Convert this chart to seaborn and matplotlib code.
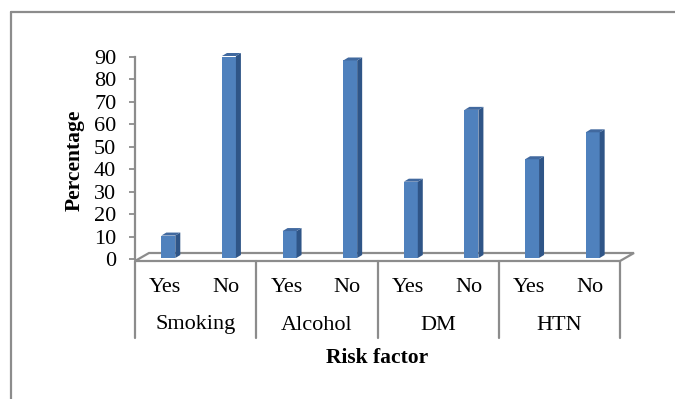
import matplotlib
matplotlib.use("Agg")
import numpy as np
import pandas as pd
import matplotlib.pyplot as plt
import seaborn as sns
from matplotlib.patches import Polygon, Rectangle
from matplotlib.lines import Line2D
from matplotlib.transforms import IdentityTransform, blended_transform_factory, offset_copy

# Survey results: share of respondents per risk factor
factors = ["Smoking", "Alcohol", "DM", "HTN"]
answers = ["Yes", "No"]
yes_pct = [10, 12, 34, 44]
no_pct = [90, 88, 66, 56]
y_ticks = list(range(0, 91, 10))

rows = []
for f, y, n in zip(factors, yes_pct, no_pct):
    rows.append((f, "Yes", y))
    rows.append((f, "No", n))
df = pd.DataFrame(rows, columns=["factor", "answer", "pct"])
df["key"] = df["factor"] + " " + df["answer"]

FRONT = "#4F81BD"
SIDE = "#2F5587"
TOP = "#41699F"
GREY = "#8C8C8C"
FS = 16

sns.set_style("white")
plt.rcParams["font.family"] = ["Liberation Serif", "DejaVu Serif"]
plt.rcParams["text.color"] = "black"
plt.rcParams["ytick.color"] = "black"

W, H = 675, 399
fig = plt.figure(figsize=(W / 100, H / 100), dpi=100)
ax = fig.add_axes([135 / W, 140 / H, 485 / W, 202 / H])

sns.barplot(data=df, x="key", y="pct", order=list(df["key"]), color=FRONT,
            saturation=1, width=0.23, linewidth=0, ax=ax, zorder=3)
bars = [p for p in ax.patches if isinstance(p, Rectangle)]

ax.set_xlim(-0.5, 7.5)
ax.set_ylim(0, 90)
ax.set_yticks(y_ticks)
ax.set_xticks([])
ax.set_xlabel("")
ax.set_ylabel("")
for s in ["top", "right", "bottom"]:
    ax.spines[s].set_visible(False)
ax.spines["left"].set_color(GREY)
ax.spines["left"].set_linewidth(1.6)
ax.tick_params(axis="y", direction="out", length=4.5, width=1.3, color=GREY,
               labelcolor="black", labelsize=FS, pad=9, left=True)
ax.patch.set_alpha(0)

# bars sit slightly back on the floor
bar_tr = offset_copy(ax.transData, fig=fig, x=3, y=1, units="dots")
for p in bars:
    p.set_transform(bar_tr)

# floor of the pseudo-3D plot
DX, DY = 14, 8
fl = ax.transData.transform((-0.5, 0)) + np.array([0, -2])
fr = ax.transData.transform((7.5, 0)) + np.array([0, -2])
floor = Polygon([fl, fr, fr + (DX, DY), fl + (DX, DY)], closed=True,
                facecolor="white", edgecolor=GREY, linewidth=1.6,
                transform=IdentityTransform(), clip_on=False, zorder=2)
ax.add_artist(floor)

# side and top faces of each bar
bx, by = 5, 3
for p in bars:
    x0, y0 = p.get_x(), p.get_y()
    x1, y1 = x0 + p.get_width(), y0 + p.get_height()
    X0, Y0 = bar_tr.transform((x0, y0))
    X1, Y1 = bar_tr.transform((x1, y1))
    side = Polygon([(X1, Y0), (X1, Y1), (X1 + bx, Y1 + by), (X1 + bx, Y0 + by)],
                   closed=True, facecolor=SIDE, edgecolor="none",
                   transform=IdentityTransform(), clip_on=False, zorder=3.1)
    top = Polygon([(X0, Y1), (X1, Y1), (X1 + bx, Y1 + by), (X0 + bx, Y1 + by)],
                  closed=True, facecolor=TOP, edgecolor="none",
                  transform=IdentityTransform(), clip_on=False, zorder=3.1)
    ax.add_artist(side)
    ax.add_artist(top)

# two-level category axis
bt = blended_transform_factory(ax.transData, fig.transFigure)
y_floor = (H - 261) / H
y_bottom = (H - 338) / H
for xb in np.arange(-0.5, 8, 2):
    ax.add_line(Line2D([xb, xb], [y_floor, y_bottom], color=GREY, lw=1.6,
                       transform=bt, clip_on=False))
for i, key in enumerate(df["key"]):
    ax.text(i, (H - 288) / H, df["answer"][i], transform=bt, ha="center",
            va="center", fontsize=FS)
for g, f in enumerate(factors):
    ax.text(2 * g + 0.5, (H - 325) / H, f, transform=bt, ha="center",
            va="center", fontsize=FS)

fig.text(377 / W, (H - 358) / H, "Risk factor", ha="center", va="center",
         fontsize=15.5, fontweight="bold")
fig.text(75 / W, (H - 160) / H, "Percentage", ha="center", va="center",
         rotation=90, fontsize=15.5, fontweight="bold")

# outer chart-area border
fig.add_artist(Line2D([11 / W, 1], [1 - 12 / H, 1 - 12 / H], color=GREY,
                      lw=1.6, transform=fig.transFigure))
fig.add_artist(Line2D([11 / W, 11 / W], [0, 1 - 12 / H], color=GREY,
                      lw=1.6, transform=fig.transFigure))

fig.savefig("out.png", dpi=100)
